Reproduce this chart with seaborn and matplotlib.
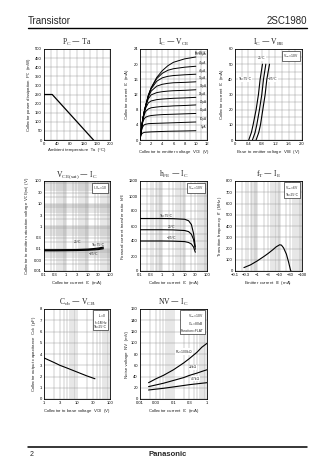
import numpy as np
import pandas as pd
import matplotlib
matplotlib.use("Agg")
import matplotlib.pyplot as plt
from matplotlib.ticker import FixedLocator, FixedFormatter, NullFormatter
import seaborn as sns

# ---------------- data ----------------
# PC - Ta
ta_pts = [0, 25, 150]
pc_pts = [250, 250, 0]

# IC - VCE
vce_pts = [0, 0.1, 0.25, 0.5, 0.75, 1, 1.5, 2, 3, 4, 5, 6, 8, 10]
ib_labels = ["5μA", "10μA", "15μA", "20μA", "25μA", "30μA", "35μA", "40μA", "45μA", "IB=50μA"]
ic_5 = [0, 0.8, 1.5, 1.85, 2.0, 2.05, 2.1, 2.15, 2.2, 2.25, 2.3, 2.33, 2.38, 2.45]
ic_10 = [0, 1.1, 2.4, 3.5, 4.0, 4.15, 4.3, 4.35, 4.4, 4.45, 4.5, 4.55, 4.65, 4.75]
ic_15 = [0, 1.2, 2.8, 4.7, 5.6, 6.0, 6.3, 6.45, 6.6, 6.7, 6.75, 6.8, 6.9, 7.0]
ic_20 = [0, 1.3, 2.9, 5.2, 6.6, 7.5, 8.2, 8.5, 8.7, 8.85, 8.9, 9.0, 9.1, 9.25]
ic_25 = [0, 1.3, 3.0, 5.4, 7.1, 8.4, 9.8, 10.3, 10.65, 10.8, 10.9, 11.0, 11.1, 11.25]
ic_30 = [0, 1.3, 3.0, 5.5, 7.3, 8.8, 10.9, 11.9, 12.5, 12.75, 12.9, 13.0, 13.1, 13.25]
ic_35 = [0, 1.3, 3.0, 5.5, 7.4, 8.9, 11.4, 12.9, 14.2, 14.7, 14.95, 15.1, 15.2, 15.35]
ic_40 = [0, 1.3, 3.0, 5.5, 7.4, 9.0, 11.7, 13.5, 15.5, 16.4, 16.8, 17.0, 17.2, 17.35]
ic_45 = [0, 1.3, 3.0, 5.5, 7.4, 9.0, 11.8, 13.7, 16.2, 17.6, 18.4, 18.8, 19.2, 19.45]
ic_50 = [0, 1.3, 3.0, 5.5, 7.4, 9.0, 11.8, 13.8, 16.5, 18.3, 19.6, 20.5, 21.4, 21.9]
ic_curves = [ic_5, ic_10, ic_15, ic_20, ic_25, ic_30, ic_35, ic_40, ic_45, ic_50]

# IC - VBE
ic_vbe_levels = [0, 5, 10, 20, 30, 40, 50]
vbe_75 = [0.41, 0.49, 0.54, 0.63, 0.70, 0.75, 0.82]
vbe_25 = [0.52, 0.60, 0.65, 0.73, 0.80, 0.85, 0.92]
vbe_m25 = [0.63, 0.71, 0.76, 0.83, 0.90, 0.95, 1.03]

# VCE(sat) - IC
sat_ic = [0.1, 0.3, 1, 3, 10, 20, 30, 50]
sat_75 = [0.088, 0.088, 0.089, 0.090, 0.094, 0.100, 0.105, 0.115]
sat_25 = [0.083, 0.083, 0.084, 0.085, 0.089, 0.093, 0.097, 0.105]
sat_m25 = [0.079, 0.079, 0.080, 0.081, 0.084, 0.087, 0.090, 0.097]

# hFE - IC
hfe_ic = [0.1, 0.3, 1, 3, 10, 15, 20, 25, 30]
hfe_75 = [700, 700, 700, 698, 690, 670, 620, 500, 320]
hfe_25 = [550, 550, 550, 548, 540, 525, 490, 420, 290]
hfe_m25 = [400, 400, 400, 398, 392, 380, 360, 320, 250]

# fT - IE
ie_vals = [-0.25, -0.5, -1, -2, -3, -5, -7, -10, -12, -15, -20, -25, -30, -32]
ft_vals = [30, 55, 90, 130, 155, 190, 215, 233, 230, 205, 150, 80, 15, 0]

# Cob - VCB
vcb_vals = [1, 2, 3, 5, 10, 20, 35]
cob_vals = [3.65, 3.25, 3.0, 2.75, 2.4, 2.05, 1.8]

# NV - IC
nv_ic = [0.018, 0.03, 0.05, 0.1, 0.2, 0.3, 0.5, 0.7, 1.0]
nv_100k = [29, 36, 42, 52, 64, 72, 83, 92, 99]
nv_22k = [22, 25, 28, 33, 38, 42, 46, 49, 52]
nv_4k7 = [16, 17.5, 19, 21.5, 24, 25.5, 27, 28, 29]

# ---------------- style ----------------
sns.set_theme(style="white")
plt.rcParams["font.family"] = ["Liberation Sans", "DejaVu Sans"]
plt.rcParams["mathtext.default"] = "regular"

W, H = 336, 474
fig = plt.figure(figsize=(W / 100, H / 100), dpi=100)
fig.patch.set_facecolor("white")

TS = 3.0   # tick label size
LS = 3.2   # axis label size
AS = 2.4   # annotation size
TTS = 5.5  # title size
SERIF = ["Liberation Serif", "DejaVu Serif"]


def make_ax(l, t, r, b):
    ax = fig.add_axes([l / W, 1 - b / H, (r - l) / W, (b - t) / H])
    for s in ax.spines.values():
        s.set_linewidth(0.6)
        s.set_color("black")
    ax.tick_params(which="both", labelsize=TS, length=1.2, width=0.4,
                   direction="in", pad=1.5, colors="black")
    ax.tick_params(which="minor", length=0)
    ax.set_axisbelow(True)
    return ax


def grid(ax):
    ax.grid(which="both", color="0.55", lw=0.3)


def titles(ax, title, xl, yl):
    ax.set_title(title, fontsize=TTS, family=SERIF, pad=3)
    ax.set_xlabel(xl, fontsize=LS, labelpad=1.5)
    ax.set_ylabel(yl, fontsize=LS, labelpad=1.5)


def box(ax, txt, x=0.95, y=0.96):
    ax.text(x, y, txt, transform=ax.transAxes, ha="right", va="top",
            fontsize=AS, linespacing=1.1,
            bbox=dict(boxstyle="square,pad=0.35", fc="white", ec="black", lw=0.4))


def log_grid(ax, axis, lo_exp, hi_exp, majors, labels):
    minors = [m * 10.0 ** e for e in range(lo_exp, hi_exp) for m in range(1, 10)]
    a = ax.xaxis if axis == "x" else ax.yaxis
    a.set_major_locator(FixedLocator(majors))
    a.set_major_formatter(FixedFormatter(labels))
    a.set_minor_locator(FixedLocator(minors))
    a.set_minor_formatter(NullFormatter())


def line(ax, x, y, lw=0.8):
    df = pd.DataFrame({"x": x, "y": y})
    sns.lineplot(data=df, x="x", y="y", ax=ax, color="black", lw=lw,
                 estimator=None, sort=False, legend=False)


cols = [(44, 110), (140, 207), (235, 302)]
rows = [(49, 140), (181, 271), (309, 399)]

# ---- PC - Ta ----
ax = make_ax(cols[0][0], rows[0][0], cols[0][1], rows[0][1])
line(ax, ta_pts, pc_pts, lw=0.9)
ax.set_xlim(0, 200); ax.set_ylim(0, 500)
ax.set_xticks(np.arange(0, 201, 40)); ax.set_xticks(np.arange(0, 201, 20), minor=True)
ax.set_yticks(np.arange(0, 501, 50))
grid(ax)
titles(ax, "P$_C$ — Ta", "Ambient temperature  Ta  (°C)",
       "Collector power dissipation  $P_C$  (mW)")

# ---- IC - VCE ----
ax = make_ax(cols[1][0], rows[0][0], cols[1][1], rows[0][1])
rec = []
for lab, c in zip(ib_labels, ic_curves):
    for v, i in zip(vce_pts, c):
        rec.append((lab, v, i))
df = pd.DataFrame(rec, columns=["ib", "vce", "ic"])
sns.lineplot(data=df, x="vce", y="ic", units="ib", estimator=None, ax=ax,
             color="black", lw=0.7, legend=False, sort=False)
for lab, c in zip(ib_labels, ic_curves):
    ax.text(11.9, c[-1] + 0.35, lab, fontsize=AS - 0.2, ha="right", va="bottom")
ax.text(11.9, 23.6, "Ta=25°C", fontsize=AS - 0.2, ha="right", va="top")
ax.set_xlim(0, 12); ax.set_ylim(0, 24)
ax.set_xticks(np.arange(0, 13, 2)); ax.set_xticks(np.arange(0, 13, 1), minor=True)
ax.set_yticks(np.arange(0, 25, 4)); ax.set_yticks(np.arange(0, 25, 2), minor=True)
grid(ax)
titles(ax, "I$_C$ — V$_{CE}$", "Collector to emitter voltage  $V_{CE}$  (V)",
       "Collector current  $I_C$  (mA)")

# ---- IC - VBE ----
ax = make_ax(cols[2][0], rows[0][0], cols[2][1], rows[0][1])
for v in (vbe_75, vbe_25, vbe_m25):
    line(ax, v, ic_vbe_levels, lw=0.8)
ax.text(0.30, 40, "Ta=75°C", fontsize=AS, ha="center", va="center",
        bbox=dict(fc="white", ec="none", pad=0.3))
ax.text(0.80, 54, "25°C", fontsize=AS, ha="center", va="center",
        bbox=dict(fc="white", ec="none", pad=0.3))
ax.text(1.13, 40, "−25°C", fontsize=AS, ha="center", va="center",
        bbox=dict(fc="white", ec="none", pad=0.3))
box(ax, "V$_{CE}$=10V")
ax.set_xlim(0, 2.0); ax.set_ylim(0, 60)
ax.set_xticks(np.arange(0, 2.01, 0.4)); ax.set_xticks(np.arange(0, 2.01, 0.2), minor=True)
ax.set_xticklabels(["0", "0.4", "0.8", "1.2", "1.6", "2.0"])
ax.set_yticks(np.arange(0, 61, 10)); ax.set_yticks(np.arange(0, 61, 5), minor=True)
grid(ax)
titles(ax, "I$_C$ — V$_{BE}$", "Base to emitter voltage  $V_{BE}$  (V)",
       "Collector current  $I_C$  (mA)")

# ---- VCE(sat) - IC ----
ax = make_ax(cols[0][0], rows[1][0], cols[0][1], rows[1][1])
ax.set_xscale("log"); ax.set_yscale("log")
for s in (sat_75, sat_25, sat_m25):
    line(ax, sat_ic, s, lw=0.8)
ax.set_xlim(0.1, 100); ax.set_ylim(0.01, 100)
log_grid(ax, "x", -1, 2, [0.1, 0.3, 1, 3, 10, 30, 100],
         ["0.1", "0.3", "1", "3", "10", "30", "100"])
log_grid(ax, "y", -2, 2, [0.01, 0.03, 0.1, 0.3, 1, 3, 10, 30, 100],
         ["0.01", "0.03", "0.1", "0.3", "1", "3", "10", "30", "100"])
ax.text(3.5, 0.19, "25°C", fontsize=AS, ha="center", va="center")
ax.text(30, 0.14, "Ta=75°C", fontsize=AS, ha="center", va="center")
ax.text(18, 0.055, "−25°C", fontsize=AS, ha="center", va="center")
box(ax, "I$_C$/I$_B$=10")
grid(ax)
titles(ax, "V$_{CE(sat)}$ — I$_C$", "Collector current  $I_C$  (mA)",
       "Collector to emitter saturation voltage  $V_{CE(sat)}$  (V)")

# ---- hFE - IC ----
ax = make_ax(cols[1][0], rows[1][0], cols[1][1], rows[1][1])
ax.set_xscale("log")
for h in (hfe_75, hfe_25, hfe_m25):
    line(ax, hfe_ic, h, lw=0.8)
ax.set_xlim(0.1, 100); ax.set_ylim(0, 1200)
log_grid(ax, "x", -1, 2, [0.1, 0.3, 1, 3, 10, 30, 100],
         ["0.1", "0.3", "1", "3", "10", "30", "100"])
ax.set_yticks(np.arange(0, 1201, 200)); ax.set_yticks(np.arange(0, 1201, 100), minor=True)
ax.text(1.5, 735, "Ta=75°C", fontsize=AS, ha="center", va="center")
ax.text(2.5, 585, "25°C", fontsize=AS, ha="center", va="center")
ax.text(2.5, 435, "−25°C", fontsize=AS, ha="center", va="center")
box(ax, "V$_{CE}$=10V")
grid(ax)
titles(ax, "h$_{FE}$ — I$_C$", "Collector current  $I_C$  (mA)",
       "Forward current transfer ratio  $h_{FE}$")

# ---- fT - IE ----
ax = make_ax(cols[2][0], rows[1][0], cols[2][1], rows[1][1])
ax.set_xscale("log")
line(ax, [-v for v in ie_vals], ft_vals, lw=0.8)
ax.set_xlim(0.1, 100); ax.set_ylim(0, 800)
log_grid(ax, "x", -1, 2, [0.1, 0.3, 1, 3, 10, 30, 100],
         ["−0.1", "−0.3", "−1", "−3", "−10", "−30", "−100"])
ax.set_yticks(np.arange(0, 801, 100))
box(ax, "V$_{CB}$=6V\nTa=25°C")
grid(ax)
titles(ax, "f$_T$ — I$_E$", "Emitter current  $I_E$  (mA)",
       "Transition frequency  $f_T$  (MHz)")

# ---- Cob - VCB ----
ax = make_ax(cols[0][0], rows[2][0], cols[0][1], rows[2][1])
ax.set_xscale("log")
line(ax, vcb_vals, cob_vals, lw=0.8)
ax.set_xlim(1, 100); ax.set_ylim(0, 8)
log_grid(ax, "x", 0, 2, [1, 3, 10, 30, 100], ["1", "3", "10", "30", "100"])
ax.set_yticks(np.arange(0, 9, 1))
box(ax, "I$_E$=0\nf=1MHz\nTa=25°C")
grid(ax)
titles(ax, "C$_{ob}$ — V$_{CB}$", "Collector to base voltage  $V_{CB}$  (V)",
       "Collector output capacitance  $C_{ob}$  (pF)")

# ---- NV - IC ----
ax = make_ax(cols[1][0], rows[2][0], cols[1][1], rows[2][1])
ax.set_xscale("log")
for n in (nv_100k, nv_22k, nv_4k7):
    line(ax, nv_ic, n, lw=0.8)
ax.set_xlim(0.01, 1); ax.set_ylim(0, 160)
log_grid(ax, "x", -2, 0, [0.01, 0.03, 0.1, 0.3, 1], ["0.01", "0.03", "0.1", "0.3", "1"])
ax.set_yticks(np.arange(0, 161, 20))
ax.text(0.2, 84, "R$_g$=100kΩ", fontsize=AS, ha="center", va="center",
        bbox=dict(fc="white", ec="none", pad=0.2))
ax.text(0.38, 56, "22kΩ", fontsize=AS, ha="center", va="center",
        bbox=dict(fc="white", ec="none", pad=0.2))
ax.text(0.45, 36, "4.7kΩ", fontsize=AS, ha="center", va="center",
        bbox=dict(fc="white", ec="none", pad=0.2))
box(ax, "V$_{CE}$=10V\nG$_V$=80dB\nFunction=FLAT")
grid(ax)
titles(ax, "NV — I$_C$", "Collector current  $I_C$  (mA)",
       "Noise voltage  NV  (mV)")

# ---- header / footer ----
fig.text(28 / W, 1 - 24 / H, "Transistor", fontsize=7, ha="left", va="baseline")
fig.text(307 / W, 1 - 24 / H, "2SC1980", fontsize=7, ha="right", va="baseline")
fig.add_artist(plt.Line2D([28 / W, 307 / W], [1 - 28 / H, 1 - 28 / H], color="black", lw=1.0))
fig.add_artist(plt.Line2D([28 / W, 307 / W], [1 - 447 / H, 1 - 447 / H], color="black", lw=1.1))
fig.text(30 / W, 1 - 456 / H, "2", fontsize=5, ha="left", va="baseline")
fig.text(168 / W, 1 - 456 / H, "Panasonic", fontsize=5.5, weight="bold", ha="center", va="baseline")

fig.savefig("out.png", dpi=100, facecolor="white")
